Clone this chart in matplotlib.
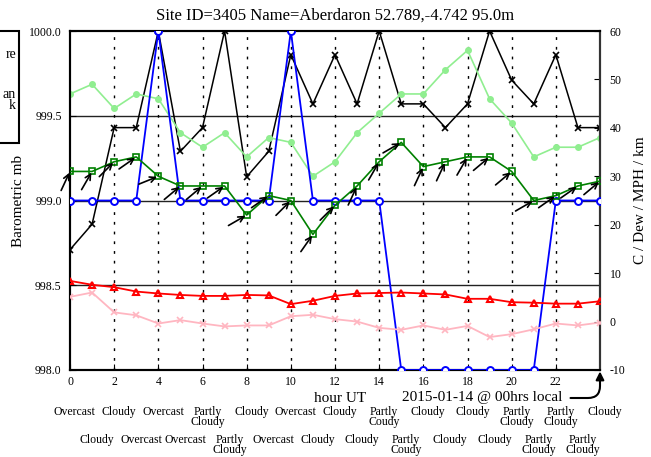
import matplotlib
matplotlib.use("Agg")
import matplotlib.pyplot as plt
import numpy as np
from matplotlib.patches import Rectangle

plt.rcParams['font.family'] = ['Liberation Serif', 'DejaVu Serif']

hours = list(range(25))
pressure = [998.71, 998.86, 999.43, 999.43, 1000.0, 999.29, 999.43, 1000.0, 999.14, 999.29,
            999.86, 999.57, 999.86, 999.57, 1000.0, 999.57, 999.57, 999.43, 999.57, 1000.0,
            999.71, 999.57, 999.86, 999.43, 999.43]
gust = [47, 49, 44, 47, 46, 39, 36, 39, 34, 38, 37, 30, 33, 39, 43, 47, 47, 52, 56, 46,
        41, 34, 36, 36, 38]
wind = [31, 31, 33, 34, 30, 28, 28, 28, 22, 26, 25, 18, 24, 28, 33, 37, 32, 33, 34, 34,
        31, 25, 26, 28, 29]
wind_dir = [205, 210, 225, 235, 248, 230, 230, 235, 240, 235, 225, 215, 225, 205, 210, 240,
            205, 205, 210, 230, 230, 240, 235, 235, 230]
visibility = [25, 25, 25, 25, 60, 25, 25, 25, 25, 25, 60, 25, 25, 25, 25, -10, -10, -10, -10,
              -10, -10, -10, 25, 25, 25]
temperature = [8.4, 7.6, 7.1, 6.2, 5.8, 5.5, 5.3, 5.3, 5.5, 5.4, 3.6, 4.3, 5.3, 5.8, 5.9, 6.0,
               5.8, 5.6, 4.7, 4.7, 4.0, 3.9, 3.7, 3.7, 4.2]
dewpoint = [5.1, 6.0, 1.9, 1.3, -0.4, 0.3, -0.4, -1.0, -0.8, -0.8, 1.1, 1.4, 0.5, 0.0, -1.3,
            -1.7, -0.8, -1.7, -0.9, -3.2, -2.6, -1.6, -0.4, -0.8, -0.2]
weather = ["Overcast", "Cloudy", "Cloudy", "Overcast", "Overcast", "Overcast", "Partly\nCloudy",
           "Partly\nCloudy", "Cloudy", "Overcast", "Overcast", "Cloudy", "Cloudy", "Cloudy",
           "Partly\nCoudy", "Partly\nCoudy", "Cloudy", "Cloudy", "Cloudy", "Cloudy",
           "Partly\nCloudy", "Partly\nCloudy", "Partly\nCloudy", "Partly\nCloudy", "Cloudy"]
xticks = list(range(0, 24, 2))
left_ticks = [998.0, 998.5, 999.0, 999.5, 1000.0]
right_ticks = list(range(-10, 61, 10))

W, H = 651, 457
fig = plt.figure(figsize=(W / 100, H / 100), dpi=100)
ax = fig.add_axes([70 / W, 87 / H, 530 / W, 339 / H])
ax2 = ax.twinx()

ax.set_xlim(0, 24)
ax.set_ylim(998.0, 1000.0)
ax2.set_ylim(-10, 60)

for v in [998.5, 999.0, 999.5]:
    ax.axhline(v, color='#222222', lw=1.0, zorder=1)
for h in range(2, 24, 2):
    ax.axvline(h, color='black', lw=1.0, linestyle=(0, (2, 5)), zorder=1)

ax.plot(hours, pressure, color='black', lw=1.1, marker='x', ms=5, mew=1.2, zorder=3)

ax2.plot(hours, gust, color='#90ee90', lw=1.2, marker='o', ms=4, mfc='#90ee90', mec='#90ee90', zorder=2)
ax2.plot(hours, visibility, color='#0000ff', lw=1.3, marker='o', ms=5, mfc='white', mec='#0000ff', mew=1.4, zorder=3)
ax2.plot(hours, wind, color='#008000', lw=1.2, marker='s', ms=5, mfc='none', mec='#008000', mew=1.2, zorder=4)
ax2.plot(hours, temperature, color='#ff0000', lw=1.3, marker='^', ms=5, mfc='none', mec='#ff0000', mew=1.5, zorder=4)
ax2.plot(hours, dewpoint, color='#ffb6c1', lw=1.3, marker='x', ms=5, mew=1.2, zorder=3)

L = 21
for h, v, d in zip(hours, wind, wind_dir):
    a = np.deg2rad(270 - d)
    ax2.annotate('', xy=(h, v), xycoords='data',
                 xytext=(-L * np.cos(a), -L * np.sin(a)), textcoords='offset pixels',
                 arrowprops=dict(arrowstyle='->', color='black', lw=1.2,
                                 shrinkA=0, shrinkB=1, mutation_scale=10),
                 annotation_clip=False, zorder=5)

for s in ['left', 'right', 'top', 'bottom']:
    ax.spines[s].set_linewidth(1.5)
    ax2.spines[s].set_linewidth(1.5)
ax2.spines['right'].set_color('#333333')

ax.set_xticks(xticks)
ax.set_xticklabels([str(x) for x in xticks], fontsize=8.5)
ax.set_yticks(left_ticks)
ax.set_yticklabels([f"{v:.1f}" for v in left_ticks], fontsize=8.5)
ax2.set_yticks(right_ticks)
ax2.set_yticklabels([str(v) for v in right_ticks], fontsize=8.5)
ax.tick_params(axis='x', direction='in', length=4, pad=4)
ax.tick_params(axis='y', direction='in', length=4, pad=6)
ax2.tick_params(axis='y', direction='in', length=4, pad=7)

ax.set_ylabel("Barometric mb", fontsize=11)
ax.yaxis.set_label_coords(-45 / 530, 0.5)
ax2.set_ylabel("C / Dew / MPH / km", fontsize=11, rotation=90)
ax2.yaxis.set_label_coords(1 + 34 / 530, 0.5)

ax.set_title("Site ID=3405 Name=Aberdaron 52.789,-4.742 95.0m", fontsize=12, pad=8)

fig.text(340 / W, 1 - 398 / H, "hour UT", fontsize=11, ha='center', va='center')

ax2.annotate("2015-01-14 @ 00hrs local", xy=(24, -10), xycoords='data',
             xytext=(482, H - 398), textcoords='figure pixels', fontsize=11,
             ha='center', va='center', annotation_clip=False,
             arrowprops=dict(arrowstyle='-|>', color='black', lw=1.5,
                             connectionstyle="angle,angleA=0,angleB=90,rad=12",
                             shrinkA=4, shrinkB=1, mutation_scale=12))

tr = ax.get_xaxis_transform()
for h, lab in zip(hours, weather):
    ytop = (370 - 406) / 339 if h % 2 == 0 else (370 - 434) / 339
    ax.text(h + 0.22, ytop, lab, transform=tr, fontsize=8.5, ha='center', va='top',
            linespacing=0.75, clip_on=False)

fig.patches.append(Rectangle((-5, H - 143), 24, 112, transform=None, fill=False,
                             edgecolor='black', lw=1.5))
fig.text(16 / W, 1 - 54 / H, "re", fontsize=10, ha='right', va='center')
fig.text(16 / W, 1 - 100 / H, "an\nk", fontsize=10, ha='right', va='center', linespacing=0.85)

fig.savefig("out.png", dpi=100)
